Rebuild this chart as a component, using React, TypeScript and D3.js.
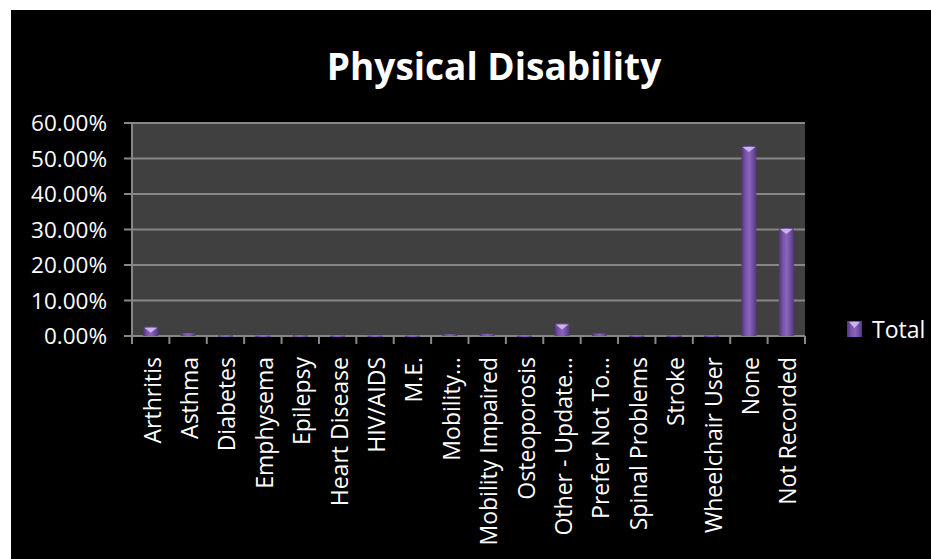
import * as d3 from "d3";

// categories and values
const categories = [
  "Arthritis",
  "Asthma",
  "Diabetes",
  "Emphysema",
  "Epilepsy",
  "Heart Disease",
  "HIV/AIDS",
  "M.E.",
  "Mobility…",
  "Mobility Impaired",
  "Osteoporosis",
  "Other - Update…",
  "Prefer Not To…",
  "Spinal Problems",
  "Stroke",
  "Wheelchair User",
  "None",
  "Not Recorded",
];
const totals = [
  0.026, 0.008, 0.002, 0.001, 0.002, 0.001, 0.001, 0.001, 0.005, 0.006, 0.001,
  0.035, 0.007, 0.001, 0.001, 0.001, 0.535, 0.304,
];
const yTicks = [0, 0.1, 0.2, 0.3, 0.4, 0.5, 0.6];
const seriesName = "Total";

const W = 931;
const H = 559;
const plot = { left: 132, right: 805, top: 123, bottom: 336 };
const font = "'Open Sans', 'DejaVu Sans', sans-serif";

const App = () => {
  const x = d3
    .scaleBand<string>()
    .domain(categories)
    .range([plot.left, plot.right])
    .padding(0);
  const y = d3.scaleLinear().domain([0, 0.6]).range([plot.bottom, plot.top]);
  const fmt = d3.format(".2%");
  const bw = x.bandwidth() * 0.4;

  return (
    <div style={{ position: "absolute", left: 0, top: 0 }}>
      <svg width={W} height={H} style={{ display: "block" }}>
        <defs>
          <linearGradient id="barGrad" x1="0" x2="1" y1="0" y2="0">
            <stop offset="0" stopColor="#4f3478" />
            <stop offset="0.3" stopColor="#7d55ad" />
            <stop offset="0.55" stopColor="#8a63bb" />
            <stop offset="1" stopColor="#54377f" />
          </linearGradient>
        </defs>
        <rect x={0} y={0} width={W} height={H} fill="#ffffff" />
        <rect x={11} y={10} width={W - 11} height={H - 10} fill="#000000" />

        <text
          x={494}
          y={80}
          textAnchor="middle"
          fill="#ffffff"
          fontFamily={font}
          fontWeight={700}
          fontSize={37}
        >
          Physical Disability
        </text>

        {/* plot area */}
        <rect
          x={plot.left}
          y={plot.top}
          width={plot.right - plot.left}
          height={plot.bottom - plot.top}
          fill="#404040"
        />

        {/* gridlines and y axis */}
        {yTicks.map((t) => (
          <g key={t}>
            <line
              x1={plot.left - 8}
              x2={plot.right}
              y1={y(t)}
              y2={y(t)}
              stroke="#878787"
              strokeWidth={2}
            />
            <text
              x={107}
              y={y(t)}
              dy="0.36em"
              textAnchor="end"
              fill="#ffffff"
              fontFamily={font}
              fontSize={22.5}
            >
              {fmt(t)}
            </text>
          </g>
        ))}
        <line
          x1={plot.left}
          x2={plot.left}
          y1={plot.top}
          y2={plot.bottom + 8}
          stroke="#878787"
          strokeWidth={2}
        />

        {/* category ticks */}
        {categories.map((c) => (
          <line
            key={"t" + c}
            x1={(x(c) as number) + x.bandwidth()}
            x2={(x(c) as number) + x.bandwidth()}
            y1={plot.bottom}
            y2={plot.bottom + 8}
            stroke="#878787"
            strokeWidth={2}
          />
        ))}

        {/* bars */}
        {categories.map((c, i) => {
          const cx = (x(c) as number) + x.bandwidth() / 2;
          const top = y(totals[i]);
          const h = plot.bottom - top;
          const cap = Math.min(6, h);
          return (
            <g key={"b" + c}>
              <rect
                x={cx - bw / 2}
                y={top}
                width={bw}
                height={Math.max(h, 1.5)}
                fill="url(#barGrad)"
              />
              {h > 3 && (
                <path
                  d={`M${cx - bw / 2 + 1},${top + 1}L${cx + bw / 2 - 1},${top + 1}L${cx},${top + cap}Z`}
                  fill="#d9c3f2"
                  opacity={0.85}
                />
              )}
            </g>
          );
        })}

        {/* category labels */}
        {categories.map((c) => {
          const cx = (x(c) as number) + x.bandwidth() / 2;
          return (
            <text
              key={"l" + c}
              transform={`translate(${cx + 10},357) rotate(-90)`}
              textAnchor="end"
              fill="#ffffff"
              fontFamily={font}
              fontSize={23}
            >
              {c}
            </text>
          );
        })}

        {/* legend */}
        <rect x={847} y={321} width={15} height={16} fill="url(#barGrad)" />
        <path d="M849,322L860,322L854.5,328Z" fill="#d9c3f2" opacity={0.85} />
        <text
          x={872}
          y={338}
          fill="#ffffff"
          fontFamily={font}
          fontSize={23}
        >
          {seriesName}
        </text>
      </svg>
    </div>
  );
};

export default App;
